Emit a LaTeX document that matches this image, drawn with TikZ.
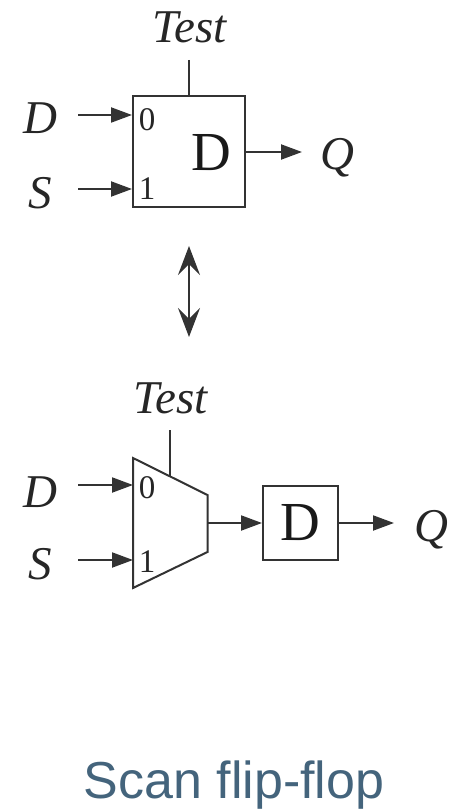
\documentclass[tikz,border=0pt]{standalone}
\usepackage{fontspec}
\setmainfont{Liberation Serif}
\newfontfamily\titlefont{Liberation Sans}
\usetikzlibrary{arrows.meta}
\definecolor{titleblue}{HTML}{44647C}
\definecolor{wire}{HTML}{333333}
\begin{document}
\begin{tikzpicture}[>={Stealth[length=21pt,width=15pt,inset=0pt]},line join=miter,x=1pt,y=-1pt,
	wireline/.style={draw=wire,line width=2pt},
	block/.style={draw=wire,line width=2pt,inner sep=0pt},
	sig/.style={font=\fontsize{47}{47}\selectfont\itshape,inner sep=0pt,anchor=base,text=black!85},
	port/.style={font=\fontsize{33}{33}\selectfont,inner sep=0pt,anchor=base,text=black!85},
	ff/.style={font=\fontsize{55}{55}\selectfont,inner sep=0pt,text=black!90}]
	\useasboundingbox (0,0) rectangle (448,810);
	% upper picture
	\node[block,minimum width=112pt,minimum height=111pt] (ff1) at (189,151.5) {};
	\node[sig] (test1) at (190,43) {Test};
	\node[sig] (d1) at (40,134) {D};
	\node[sig] (s1) at (40,208) {S};
	\node[sig] (q1) at (337,170) {Q};
	\node[port] (zero1) at (147,131) {0};
	\node[port] (one1) at (147,200) {1};
	\node[ff,anchor=base] (dlabel1) at (211,171) {D};
	\coordinate (t1) at (189,60);
	\coordinate (a1) at (78,115);
	\coordinate (b1) at (78,189);
	\coordinate (c1) at (302,152);
	\draw[wireline] (t1)--(t1|-ff1.north);
	\draw[wireline,->] (a1)--(a1-|ff1.west);
	\draw[wireline,->] (b1)--(b1-|ff1.west);
	\draw[wireline,->] (c1-|ff1.east)--(c1);
	% both directions
	\coordinate (u) at (189,246);
	\coordinate (v) at (189,337);
	\draw[wireline,{Stealth[length=29pt,width=22pt,inset=11pt]}-{Stealth[length=29pt,width=22pt,inset=11pt]}] (u)--(v);
	% lower picture
	\coordinate (m1) at (133,458);
	\coordinate (m2) at (207.5,495);
	\coordinate (m3) at (207.5,552);
	\coordinate (m4) at (133,588);
	\draw[wireline] (m1)--(m2)--(m3)--(m4)--cycle;
	\node[block,ff,minimum width=75pt,minimum height=74pt] (ff2) at (300.5,523) {D};
	\node[sig] (test2) at (171,413) {Test};
	\node[sig] (d2) at (40,507) {D};
	\node[sig] (s2) at (40,579) {S};
	\node[sig] (q2) at (431,541) {Q};
	\node[port] (zero2) at (147,498) {0};
	\node[port] (one2) at (147,572) {1};
	\coordinate (t2) at (170,430);
	\coordinate (t3) at (170,476.5);
	\coordinate (a2) at (78,485);
	\coordinate (b2) at (78,560);
	\coordinate (e2) at (207.5,523);
	\coordinate (c2) at (394,523);
	\draw[wireline] (t2)--(t3);
	\draw[wireline,->] (a2)--(a2-|m1);
	\draw[wireline,->] (b2)--(b2-|m1);
	\draw[wireline,->] (e2)--(ff2.west);
	\draw[wireline,->] (ff2.east)--(c2);
	\node[font=\titlefont\fontsize{52}{52}\selectfont,text=titleblue,inner sep=0pt,anchor=base] (title) at (234,798) {Scan flip-flop};
\end{tikzpicture}
\end{document}
